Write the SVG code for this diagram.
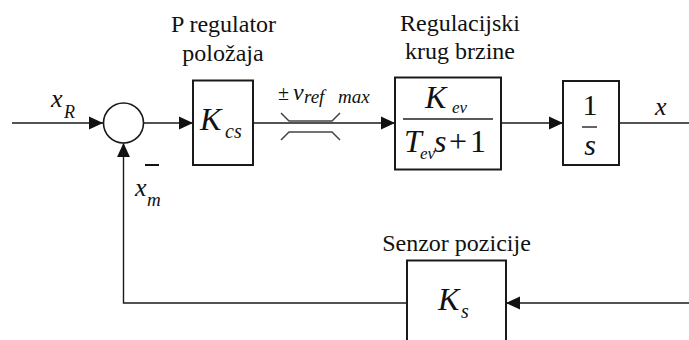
<svg xmlns="http://www.w3.org/2000/svg" width="689" height="340" viewBox="0 0 689 340">
<style>
.blk{fill:#fff;stroke:#1a1a1a;stroke-width:2}
.ln{fill:none;stroke:#1a1a1a;stroke-width:1.4}
text{font-family:"Liberation Serif",Tinos,"Times New Roman",Times,"Nimbus Roman","DejaVu Serif","Noto Serif",serif;fill:#111}
.lbl{font-size:24px}
.it{font-style:italic}
</style>
<defs>
<marker id="arr" markerUnits="userSpaceOnUse" markerWidth="14" markerHeight="14" viewBox="0 0 13 12" refX="13" refY="6" orient="auto">
<path d="M0,0 L13,6 L0,12 Z" fill="#111"/>
</marker>
</defs>
<rect width="689" height="340" fill="#fff"/>
<g id="connectors">
<path class="ln" d="M12,123 H103" marker-end="url(#arr)"/>
<path class="ln" d="M143.5,123 H193" marker-end="url(#arr)"/>
<path class="ln" d="M253,123 H395" marker-end="url(#arr)"/>
<path class="ln" d="M501,123 H563" marker-end="url(#arr)"/>
<path class="ln" d="M619,123 H689"/>
<path class="ln" d="M689,303 H506" marker-end="url(#arr)"/>
<path class="ln" d="M407,303 H123.5 V143" marker-end="url(#arr)"/>
</g>
<g id="sum">
<circle cx="123.5" cy="123" r="20" fill="#fff" stroke="#1a1a1a" stroke-width="1.6"/>
<line x1="145" y1="165" x2="159" y2="165" stroke="#111" stroke-width="2"/>
</g>
<g id="labels-signals">
<text class="it" x="51" y="107" font-size="26">x</text>
<text class="it" x="64" y="118" font-size="18">R</text>
<text class="it" x="135" y="196" font-size="26">x</text>
<text class="it" x="147" y="206" font-size="19">m</text>
<text class="it" x="655" y="115" font-size="26">x</text>
</g>
<g id="Kcs">
<text class="lbl" x="223.5" y="32" text-anchor="middle">P regulator</text>
<text class="lbl" x="223" y="61" text-anchor="middle">položaja</text>
<rect class="blk" x="193" y="80.5" width="60" height="84.5"/>
<text class="it" x="200" y="130" font-size="32">K</text>
<text class="it" x="225" y="138" font-size="20">cs</text>
</g>
<g id="saturation">
<text x="278" y="100" font-size="20">±</text>
<text class="it" x="293" y="100" font-size="24">v</text>
<text class="it" x="304" y="103" font-size="19">ref</text>
<text class="it" x="338" y="103" font-size="19">max</text>
<path d="M281,113 L289,121 H332 L340,113" fill="none" stroke="#444" stroke-width="1.5"/>
<path d="M281,140 L289,132 H332 L340,140" fill="none" stroke="#444" stroke-width="1.5"/>
</g>
<g id="Kev">
<text class="lbl" x="460" y="31" text-anchor="middle">Regulacijski</text>
<text class="lbl" x="460" y="59" text-anchor="middle">krug brzine</text>
<rect class="blk" x="395" y="77.5" width="106" height="92"/>
<text class="it" x="425" y="108" font-size="32">K</text>
<text class="it" x="452" y="113" font-size="17">ev</text>
<line x1="403" y1="119" x2="493" y2="119" stroke="#222" stroke-width="1.4"/>
<text class="it" x="404" y="152" font-size="32">T</text>
<text class="it" x="420" y="159" font-size="17">ev</text>
<text class="it" x="434" y="152" font-size="32">s</text>
<text x="449" y="152" font-size="32">+</text>
<text x="470" y="152" font-size="32">1</text>
</g>
<g id="integrator">
<rect class="blk" x="563" y="81" width="56" height="84"/>
<text x="590" y="115" font-size="30" text-anchor="middle">1</text>
<line x1="582" y1="127" x2="597" y2="127" stroke="#222" stroke-width="1.4"/>
<text class="it" x="590" y="155" font-size="30" text-anchor="middle">s</text>
</g>
<g id="Ks">
<text class="lbl" x="456.5" y="251" text-anchor="middle">Senzor pozicije</text>
<rect class="blk" x="407" y="260.5" width="99" height="90"/>
<text class="it" x="438" y="310" font-size="32">K</text>
<text class="it" x="461" y="318" font-size="20">s</text>
</g>
</svg>
